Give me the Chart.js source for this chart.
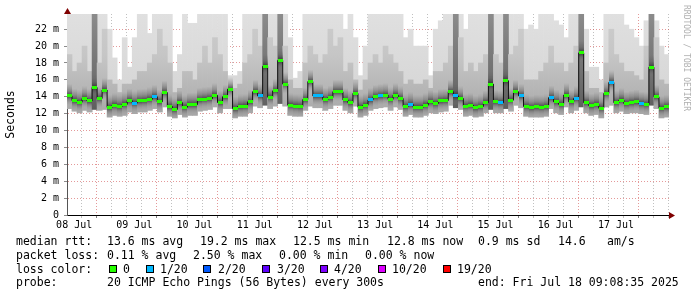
<!DOCTYPE html>
<html>
<head>
<meta charset="utf-8">
<title>smokeping 10 days</title>
<script src="https://cdn.jsdelivr.net/npm/chart.js@4.4.1/dist/chart.umd.min.js"></script>
<style>
  html, body { margin: 0; padding: 0; background: #fff; }
  #wrap { position: relative; width: 697px; height: 297px; font-family: 'DejaVu Sans Mono', monospace; }
  #wrap canvas { position: absolute; left: 0; top: 0; }
  .t { position: absolute; font-size: 11.5px; line-height: 14px; white-space: pre; color: #000; }
  .box { position: absolute; top: 265px; width: 8px; height: 8px; box-sizing: border-box; border: 1px solid #000; }
  #mark { position: absolute; left: 691px; top: 5px; transform-origin: 0 0; transform: rotate(90deg);
          font-size: 8px; line-height: 9px; color: #b0b0b0; white-space: pre; }
</style>
</head>
<body>
<div id="wrap">
  <canvas id="smoke" width="697" height="297"></canvas>
  <div id="mark">RRDTOOL / TOBI OETIKER</div>

  <span class="t" style="left:16px;top:234px">median rtt:</span>
  <span class="t" style="left:107px;top:234px">13.6 ms avg</span>
  <span class="t" style="left:200px;top:234px">19.2 ms max</span>
  <span class="t" style="left:293px;top:234px">12.5 ms min</span>
  <span class="t" style="left:387px;top:234px">12.8 ms now</span>
  <span class="t" style="left:478px;top:234px">0.9 ms sd</span>
  <span class="t" style="left:558px;top:234px">14.6</span>
  <span class="t" style="left:607px;top:234px">am/s</span>

  <span class="t" style="left:16px;top:248px">packet loss:</span>
  <span class="t" style="left:107px;top:248px">0.11 % avg</span>
  <span class="t" style="left:193px;top:248px">2.50 % max</span>
  <span class="t" style="left:279px;top:248px">0.00 % min</span>
  <span class="t" style="left:365px;top:248px">0.00 % now</span>

  <span class="t" style="left:16px;top:262px">loss color:</span>
  <div id="losslegend"></div>

  <span class="t" style="left:16px;top:275px">probe:</span>
  <span class="t" style="left:107px;top:275px">20 ICMP Echo Pings (56 Bytes) every 300s</span>
  <span class="t" style="left:478px;top:275px">end: Fri Jul 18 09:08:35 2025</span>
</div>
<script>
// window: Jul 8 09:08:35 -> Jul 18 09:08:35, one value per 2 hours
const startHour = 9 + 8 / 60 + 35 / 3600;
const spanHours = 240;
const stepHours = 2;

// median rtt (ms) per step
const median = [
  14.1, 13.55, 13.35, 13.8, 13.5, 15.1, 13.8, 14.8, 12.75, 13.0, 12.85, 13.1, 13.55, 13.25, 13.5, 13.55, 13.7, 14.0, 13.4, 14.5,
  12.85, 12.5, 13.3, 12.76, 13.07, 13.07, 13.63, 13.7, 13.78, 14.18, 13.31, 14.0, 14.9, 12.6, 12.85, 12.9, 13.4, 14.6, 14.1, 17.6,
  13.95, 14.7, 18.3, 15.5, 13.0, 12.9, 12.85, 13.67, 15.8, 14.1, 14.1, 13.67, 13.9, 14.6, 14.6, 13.63, 13.3, 14.4, 12.76, 13.0,
  13.63, 14.0, 14.1, 14.2, 13.7, 14.2, 13.8, 12.85, 13.1, 12.76, 12.76, 13.0, 13.4, 13.2, 13.5, 13.55, 14.6, 14.1, 13.8, 12.9,
  13.0, 12.7, 12.85, 13.3, 15.5, 13.4, 13.3, 15.9, 13.6, 14.6, 14.1, 12.85, 12.7, 12.8, 12.76, 12.85, 13.9, 13.4, 13.1, 14.2,
  13.4, 13.8, 19.2, 13.3, 12.95, 13.1, 12.65, 14.4, 15.7, 13.3, 13.6, 13.2, 13.3, 13.4, 13.2, 13.1, 17.5, 14.0, 12.65, 12.8
];

// loss level per step (index into lossLabels)
const loss = [
  0,0,0,0,0,0,0,0,0,0,0,0,0,1,0,0,0,1,0,0,
  0,0,0,0,0,0,0,0,0,0,0,0,0,0,0,0,0,0,1,0,
  0,0,0,0,0,0,0,0,0,1,1,0,0,0,0,0,0,0,0,0,
  1,0,1,0,0,0,0,0,1,0,0,0,0,0,0,0,0,1,0,0,
  0,0,0,0,0,0,1,0,0,0,1,0,0,0,0,0,1,0,0,0,
  0,1,0,0,0,0,0,0,1,0,0,0,0,0,1,0,0,0,0,0
];

// smoke: lowest ping, top of the dense part, highest ping (ms)
const smokeLo = [
  12.6, 12.3, 12.1, 12.4, 12.2, 12.5, 12.4, 12.5, 11.6, 11.8, 11.7, 11.8, 12.2, 12.0, 12.2, 12.2, 12.4, 12.6, 12.2, 12.8,
  11.7, 11.5, 11.9, 11.6, 11.8, 11.8, 12.3, 12.4, 12.5, 12.8, 12.1, 12.6, 12.6, 11.5, 11.7, 11.7, 12.1, 12.9, 12.7, 13.0,
  12.6, 12.9, 13.2, 12.9, 11.8, 11.7, 11.7, 12.4, 12.9, 12.7, 12.7, 12.4, 12.6, 13.0, 13.0, 12.4, 12.1, 12.9, 11.6, 11.8,
  12.4, 12.6, 12.7, 12.8, 12.4, 12.8, 12.5, 11.7, 11.9, 11.6, 11.6, 11.8, 12.1, 12.0, 12.2, 12.3, 13.0, 12.7, 12.5, 11.7,
  11.8, 11.6, 11.7, 12.1, 12.5, 12.1, 12.1, 12.6, 12.3, 13.0, 12.7, 11.7, 11.6, 11.6, 11.6, 11.7, 12.6, 12.1, 11.9, 12.8,
  12.1, 12.4, 12.8, 12.1, 11.8, 11.9, 11.5, 12.8, 13.0, 12.1, 12.3, 12.0, 12.1, 12.1, 12.0, 11.9, 13.0, 12.6, 11.5, 11.6
];
const smokeMid = [
  19, 17, 18, 20, 17, 24, 18, 22, 16, 15.5, 14.5, 15.5, 15.5, 16, 17, 17, 18, 19, 22, 20,
  18, 14.5, 15, 17, 17, 16, 18, 20, 18, 21, 19, 17, 15, 15, 15.5, 18, 19, 22, 20, 24,
  21, 20, 24, 20, 16, 15, 15, 18, 20, 19, 18, 19, 22, 20, 21, 17, 18, 16, 14.8, 16,
  18, 19, 18, 20, 19, 18, 17, 15.5, 16, 15.5, 15.5, 16, 15, 17, 17, 18, 20, 24, 21, 17,
  18, 17, 18, 19, 24, 19, 18, 24, 19, 20, 22, 16, 16, 16, 17, 18, 20, 18, 18, 17,
  18, 20, 24, 17, 15, 15, 14.5, 18, 22, 19, 18, 17, 17, 16.5, 16, 20, 24, 21, 16, 15.5
];
const smokeHi = [
  24, 24, 24, 24, 24, 24, 24, 24, 22, 18.6, 16, 21, 17.5, 21, 24, 24, 21.5, 24, 24, 24,
  24, 17, 19, 24, 22.7, 22.7, 24, 24, 24, 24, 24, 24, 16.5, 16.5, 17, 24, 24, 24, 24, 24,
  24, 24, 24, 24, 21, 16.2, 17, 24, 24, 24, 24, 24, 24, 24, 24, 22, 24, 21, 16.5, 20,
  24, 24, 24, 24, 24, 24, 24, 21, 22, 20, 20, 20, 16.5, 22, 23, 24, 24, 24, 24, 22,
  24, 24, 24, 24, 24, 24, 24, 24, 24, 24, 24, 22, 22.5, 22, 24, 24, 24, 23, 22.5, 21,
  24, 24, 24, 22, 17.5, 17.5, 16, 24, 24, 24, 24, 22.5, 22, 21, 20, 23, 24, 23, 20, 19
];

const lossLabels = ['0', '1/20', '2/20', '3/20', '4/20', '10/20', '19/20'];
const lossColors = ['#26ff00', '#00b8ff', '#0059ff', '#5e00ff', '#7e00ff', '#dd00ff', '#ff0000'];
const lossBoxX   = [109, 146, 203, 262, 320, 378, 443];
const lossTextX  = [123, 160, 218, 277, 334, 392, 457];

const yMax = 23.8;
const majorGrid = 'rgba(205,70,70,0.55)';
const minorGrid = 'rgba(150,150,150,0.6)';

// legend swatches
const legendEl = document.getElementById('losslegend');
lossLabels.forEach((lbl, i) => {
  const b = document.createElement('div');
  b.className = 'box';
  b.style.left = lossBoxX[i] + 'px';
  b.style.background = lossColors[i];
  legendEl.appendChild(b);
  const s = document.createElement('span');
  s.className = 't';
  s.style.left = lossTextX[i] + 'px';
  s.style.top = '262px';
  s.textContent = lbl;
  legendEl.appendChild(s);
});

const hours = median.map((_, i) => stepHours * i + stepHours / 2);
const pts = (arr) => arr.map((v, i) => ({ x: hours[i], y: v }));
const span = (lo, hi) => lo.map((v, i) => ({ x: hours[i], y: [v, hi[i]] }));

// tick every 6h on the clock
const xTickHours = [];
for (let h = 6 - (startHour % 6); h <= spanHours; h += 6) xTickHours.push(h);
const clockHour = (h) => Math.round(startHour + h) % 24;
function dayLabel(h) {
  if (clockHour(h) !== 12) return '';
  const day = 8 + Math.floor(Math.round(startHour + h) / 24);
  return String(day).padStart(2, '0') + ' Jul';
}
const isMidnight = (c) => c.tick && clockHour(c.tick.value) === 0;
const isEven = (c) => c.tick && c.tick.value % 2 === 0;

// vertical grey ramps for the smoke layers, in ms
function ramp(c, stops) {
  const { ctx, chartArea, scales } = c.chart;
  if (!chartArea) return stops[0][1];
  const g = ctx.createLinearGradient(0, scales.y.getPixelForValue(stops[0][0]), 0,
                                     scales.y.getPixelForValue(stops[stops.length - 1][0]));
  const a = stops[0][0], b = stops[stops.length - 1][0];
  stops.forEach(([v, col]) => g.addColorStop((v - a) / (b - a), col));
  return g;
}
const lightRamp = [[12, '#cfcfcf'], [16, '#d8d8d8'], [24, '#e0e0e0']];
const midRamp   = [[12, '#a8a8a8'], [15, '#b6b6b6'], [19, '#c6c6c6'], [24, '#cdcdcd']];
const darkRamp  = [[12, '#5c5c5c'], [16, '#6e6e6e'], [24, '#8c8c8c']];

// marker images
function rectImg(color, w, h) {
  const c = document.createElement('canvas');
  c.width = w; c.height = h;
  const g = c.getContext('2d');
  g.fillStyle = color;
  g.fillRect(0, 0, w, h);
  return c;
}
const lossImgs = lossColors.map(c => rectImg(c, 5, 3));

function coreImg() {
  const c = document.createElement('canvas');
  c.width = 5; c.height = 24;
  const g = c.getContext('2d');
  const grd = g.createLinearGradient(0, 0, 0, 24);
  grd.addColorStop(0, 'rgba(100,100,100,0)');
  grd.addColorStop(0.25, 'rgba(90,90,90,0.4)');
  grd.addColorStop(0.5, 'rgba(35,35,35,0.8)');
  grd.addColorStop(0.68, 'rgba(90,90,90,0.4)');
  grd.addColorStop(0.9, 'rgba(140,140,140,0)');
  g.fillStyle = grd;
  g.fillRect(0, 0, 5, 24);
  return c;
}
const core = coreImg();

const axisArrows = {
  id: 'axisArrows',
  afterDraw(chart) {
    const { ctx, chartArea: a } = chart;
    const x0 = Math.round(a.left) + 0.5;
    const y0 = Math.round(a.bottom) + 0.5;
    ctx.save();
    ctx.fillStyle = '#7f0000';
    ctx.beginPath();
    ctx.moveTo(x0, a.top - 6);
    ctx.lineTo(x0 - 3.5, a.top);
    ctx.lineTo(x0 + 3.5, a.top);
    ctx.closePath();
    ctx.fill();
    ctx.beginPath();
    ctx.moveTo(a.right + 6, y0);
    ctx.lineTo(a.right, y0 - 3.5);
    ctx.lineTo(a.right, y0 + 3.5);
    ctx.closePath();
    ctx.fill();
    ctx.restore();
  }
};

new Chart(document.getElementById('smoke'), {
  type: 'bar',
  data: {
    datasets: [
      {
        label: 'smoke',
        data: span(smokeLo, smokeHi),
        backgroundColor: (c) => ramp(c, lightRamp),
        grouped: false,
        barPercentage: 1,
        categoryPercentage: 1,
        order: 10,
      },
      {
        label: 'smoke dense',
        data: span(smokeLo, smokeMid),
        backgroundColor: (c) => ramp(c, smokeMid[c.dataIndex] >= 24 ? darkRamp : midRamp),
        grouped: false,
        barPercentage: 1,
        categoryPercentage: 1,
        order: 9,
      },
      {
        type: 'line',
        label: 'core',
        data: pts(median),
        showLine: false,
        pointStyle: core,
        pointRadius: 2,
        order: 8,
      },
      {
        type: 'line',
        label: 'median rtt',
        data: pts(median),
        stepped: 'middle',
        borderColor: '#111',
        borderWidth: 1,
        pointStyle: (c) => lossImgs[loss[c.dataIndex] || 0],
        pointRadius: 2,
        order: 1,
      },
    ],
  },
  options: {
    responsive: false,
    devicePixelRatio: 1,
    animation: false,
    events: [],
    layout: { padding: { top: 14, right: 28, left: 0, bottom: 0 } },
    plugins: { legend: { display: false }, tooltip: { enabled: false } },
    scales: {
      x: {
        type: 'linear',
        min: 0, max: spanHours,
        offset: false,
        z: 1,
        afterFit: (s) => { s.height = 82; },
        afterBuildTicks: (s) => { s.ticks = xTickHours.map(v => ({ value: v })); },
        ticks: {
          autoSkip: false, maxRotation: 0, padding: 1,
          color: '#000',
          font: { family: 'DejaVu Sans Mono', size: 10 },
          callback: (v) => dayLabel(v),
        },
        grid: {
          color: (c) => (isMidnight(c) ? majorGrid : minorGrid),
          tickLength: 3,
          tickColor: (c) => (isMidnight(c) ? 'rgba(0,0,0,0.5)' : 'rgba(0,0,0,0.25)'),
          tickBorderDash: [],
        },
        border: { color: '#000', width: 1, dash: [1, 2] },
      },
      y: {
        min: 0, max: yMax,
        z: 1,
        afterFit: (s) => { s.width = 67; },
        ticks: {
          stepSize: 1, includeBounds: false, padding: 5,
          color: '#000',
          font: { family: 'DejaVu Sans Mono', size: 10 },
          callback: (v) => (v % 2 ? '' : (v === 0 ? '0' : v + ' m')),
        },
        grid: {
          color: (c) => (isEven(c) ? majorGrid : minorGrid),
          tickLength: 3,
          tickColor: 'rgba(0,0,0,0.45)',
          tickBorderDash: [],
        },
        border: { color: '#555', width: 1, dash: [1, 2] },
        title: {
          display: true,
          text: 'Seconds',
          color: '#000',
          font: { family: 'DejaVu Sans Mono', size: 11.5 },
          padding: { top: 4, bottom: 0 },
        },
      },
    },
  },
  plugins: [axisArrows],
});
</script>
</body>
</html>
